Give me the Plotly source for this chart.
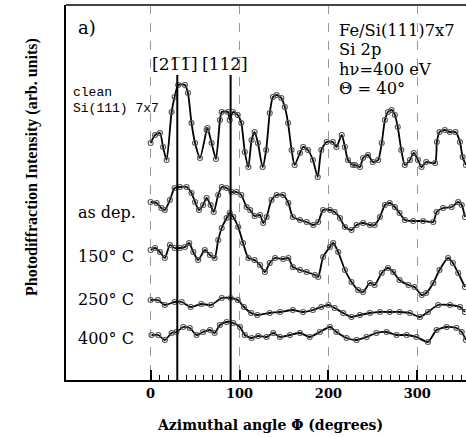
import plotly.graph_objects as go

# ---------------- data (azimuth in degrees, intensity in arb. units) ----------------
phi_clean = [0, 5, 10.5, 14, 18, 23.6, 27, 31, 38.6, 42, 46, 50, 55.5, 63, 64, 68.6, 73.5, 78, 80, 87, 89,
             92.7, 98, 102, 106, 110, 113.6, 117, 120.7, 126, 130, 134, 137.6, 141.7, 147, 151, 154.6, 158.6,
             162, 168, 171.6, 177, 182.6, 188, 192, 198, 205, 209, 215, 218.6, 222, 227.6, 230, 235.5, 239,
             244.6, 250, 256, 260, 263.6, 267, 271, 274.8, 278, 282, 286, 291.7, 296, 300.7, 304.8, 310, 320,
             322, 325, 331, 336.7, 343, 348, 351, 354.7]
int_clean = [237, 245, 247, 233, 220, 268, 283, 295, 295, 287, 257, 237, 222, 250, 252, 237, 221, 260, 268, 268, 260,
             268, 265, 257, 228, 213, 240, 248, 237, 213, 230, 267, 283, 285, 282, 273, 257, 230,
             215, 227, 233, 230, 220, 203, 230, 238, 238, 233, 245, 233, 220, 215, 215, 213, 222,
             225, 218, 220, 237, 260, 268, 270, 265, 253, 230, 215, 220, 227, 220, 213, 218, 217,
             238, 248, 250, 248, 248, 238, 223, 215]

phi_asdep = [0, 6.7, 12, 16, 21.7, 27, 33, 40.5, 46, 50, 54.4, 59, 63, 67.5, 71, 76, 80, 85.5, 91, 96.7, 102,
             108, 112, 117, 123, 126.7, 130.5, 136, 141.7, 149, 155, 160, 168, 175.5, 183, 188.5, 194, 201.7,
             207, 213, 218.6, 226, 231.7, 239, 246.7, 252, 258, 263.6, 269, 274.8, 280, 286, 295.4, 306.6,
             318, 321.7, 329, 338.6, 346, 350, 353.6]
int_asdep = [178, 177, 172, 170, 180, 192, 193, 193, 187, 178, 170, 175, 182, 175, 168, 185, 193, 192, 188, 188, 185,
             173, 170, 164, 165, 157, 163, 180, 185, 185, 177, 163, 160, 158, 155, 158, 170, 170,
             168, 162, 153, 150, 155, 157, 155, 155, 163, 175, 177, 173, 167, 160, 159, 159,
             158, 168, 172, 173, 178, 175, 163]

phi_150 = [0, 5, 10.5, 16, 21.7, 27, 33, 38.6, 43.4, 48, 53.5, 61, 66.7, 72, 76, 80, 85.5, 89, 93, 98.5, 104,
           110, 117, 123, 128.6, 134, 140, 149, 155, 160, 168, 175.5, 184.8, 188.5, 194, 201.7, 205.4, 211,
           218.6, 226, 233.5, 239, 246.7, 252, 260, 267, 273, 280, 290, 297, 305, 310, 318, 325, 334.7,
           340, 346, 353.6]
int_150 = [130, 132, 128, 122, 135, 132, 132, 133, 137, 128, 120, 130, 125, 122, 140, 152, 162, 167, 163, 153, 137,
           122, 120, 115, 108, 117, 122, 121, 122, 113, 110, 108, 105, 103, 123, 133, 137, 128,
           110, 98, 90, 88, 97, 95, 107, 112, 108, 100, 95, 93, 85, 87, 97, 110, 122,
           117, 107, 93]

phi_250 = [0, 8, 16, 27, 35, 45, 57, 68, 80, 90, 98, 105, 113, 120, 134, 145.6, 160, 171.6, 182.6, 192, 200,
           207, 216.7, 226, 235.4, 246.7, 258, 269, 280, 291.7, 303, 312, 323.5, 336.7, 348, 353.6]
int_250 = [80, 80, 75, 78, 78, 73, 76, 75, 82, 82, 80, 73, 67, 65, 67, 68, 70, 68, 70, 73, 75,
           72, 67, 63, 65, 67, 68, 68, 68, 67, 63, 68, 75, 75, 73, 68]

phi_400 = [1, 8.6, 16, 23.6, 29, 36.7, 44, 51.7, 59, 66.7, 72, 78, 85.5, 93, 100.5, 106, 113.6, 121, 130.5,
           138, 145.5, 156.7, 168, 179, 190.4, 201.7, 209, 220.5, 231.7, 243, 254, 265.5, 276.7, 288, 299,
           312, 321.7, 333, 344, 350, 354.7]
int_400 = [45, 45, 40, 47, 48, 53, 52, 45, 48, 50, 47, 55, 58, 57, 53, 45, 42, 44, 43,
           47, 43, 45, 47, 43, 48, 53, 48, 42, 40, 43, 47, 48, 45, 45, 43,
           38, 50, 53, 52, 48, 40]

series = [(phi_clean, int_clean), (phi_asdep, int_asdep), (phi_150, int_150),
          (phi_250, int_250), (phi_400, int_400)]

major_ticks = [0, 100, 200, 300]
major_labels = ["0", "100", "200", "300"]
minor_ticks = [v for v in range(10, 360, 10) if v % 100 != 0]
ref_dirs = [30, 90]
ref_top = 305

SERIF = "DejaVu Serif, serif"
TIMES = "Liberation Serif, Times New Roman, serif"
MONO = "Liberation Mono, Courier New, monospace"

fig = go.Figure()
for phi, inten in series:
    fig.add_trace(go.Scatter(
        x=phi, y=inten, mode="lines+markers",
        line=dict(color="black", width=1.8, shape="spline", smoothing=0.6),
        marker=dict(symbol="circle-open", size=5, color="#555", line=dict(width=1.1)),
        showlegend=False, hoverinfo="skip"))

for d in ref_dirs:
    fig.add_shape(type="line", x0=d, x1=d, y0=0, y1=ref_top, xref="x", yref="y",
                  line=dict(color="black", width=2))

# top frame line
fig.add_shape(type="line", x0=0, x1=1, y0=1, y1=1, xref="paper", yref="paper",
              line=dict(color="#444", width=2))

def ann(text, x, y, size=15, family=SERIF, xanchor="left", **kw):
    fig.add_annotation(text=text, x=x, y=y, xref="x", yref="y", showarrow=False,
                       xanchor=xanchor, yanchor="middle", borderpad=0,
                       font=dict(family=family, size=size, color="black"), **kw)

ann("a)", -83, 353, size=18)
ann("clean", -88.5, 288, size=13, family=MONO)
ann("Si(111) 7x7", -88.5, 272, size=13, family=MONO)
ann("as dep.", -83, 168, size=16)
ann("150° C", -83, 124, size=16)
ann("250° C", -83, 81, size=16)
ann("400° C", -83, 42, size=16)
ann("[21\u03051\u0305]", 27.5, 316, size=17, xanchor="center")
ann("[112\u0305]", 84, 316, size=17, xanchor="center")
ann("Fe/Si(111)7x7", 210.5, 350, size=16.3)
ann("Si 2p", 210.5, 331, size=16.3)
ann("hν=400 eV", 210.5, 311, size=16.3)
ann("Θ = 40°", 210.5, 292, size=16.3)

fig.add_annotation(text="<b>Photodiffraction Intensity (arb. units)</b>", textangle=-90,
                   x=0, y=0.568, xref="paper", yref="paper", xshift=-34, showarrow=False,
                   xanchor="center", yanchor="middle",
                   font=dict(family=TIMES, size=16, color="black"))
fig.add_annotation(text="<b>Azimuthal angle Φ (degrees)</b>",
                   x=0.51, y=0, xref="paper", yref="paper", yshift=-45, showarrow=False,
                   xanchor="center", yanchor="middle",
                   font=dict(family=SERIF, size=14, color="black"))

fig.update_layout(
    width=466, height=437,
    margin=dict(l=66, r=0, t=5, b=57),
    plot_bgcolor="white", paper_bgcolor="white",
    xaxis=dict(range=[-95.2, 354.8], showline=True, linecolor="black", linewidth=2,
               ticks="inside", ticklen=10, tickwidth=1.5, tickcolor="black",
               tickmode="array", tickvals=major_ticks, ticktext=major_labels,
               tickfont=dict(family=SERIF, size=13, color="black", weight="bold"),
               showgrid=True, gridcolor="#999", griddash="dash", gridwidth=1,
               zeroline=False,
               minor=dict(tickmode="array", tickvals=minor_ticks, ticks="inside",
                          ticklen=5, tickwidth=1.2, tickcolor="black", showgrid=False)),
    yaxis=dict(range=[0, 375], showline=True, linecolor="black", linewidth=2,
               showticklabels=False, ticks="", showgrid=False, zeroline=False),
)

fig.write_html("out.html")
